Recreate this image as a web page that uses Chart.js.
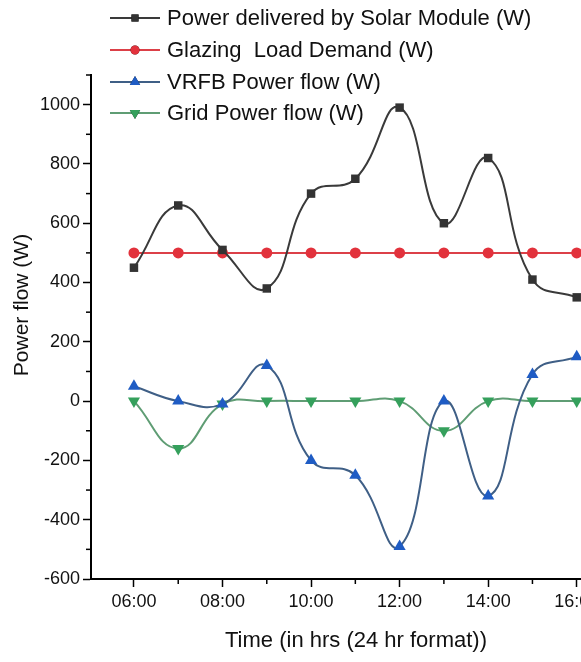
<!DOCTYPE html>
<html>
<head>
<meta charset="utf-8">
<script src="https://cdn.jsdelivr.net/npm/chart.js@4/dist/chart.umd.min.js"></script>
<style>
  html, body { margin: 0; padding: 0; background: #fff; overflow: hidden; }
  #wrap { width: 581px; height: 662px; overflow: hidden; }
</style>
</head>
<body>
<div id="wrap"><canvas id="myChart" width="628" height="662"></canvas></div>
<script>
// time in hours, tick labels
const hours = [6, 7, 8, 9, 10, 11, 12, 13, 14, 15, 16];
const xTickLabels = { 6: '06:00', 8: '08:00', 10: '10:00', 12: '12:00', 14: '14:00', 16: '16:00' };
const yTicks = [-600, -400, -200, 0, 200, 400, 600, 800, 1000];

// series (W)
const solarPower = [450, 660, 510, 380, 700, 750, 990, 600, 820, 410, 350];
const loadDemand = [500, 500, 500, 500, 500, 500, 500, 500, 500, 500, 500];
const vrfbFlow = [50, 0, -10, 120, -200, -250, -490, 0, -320, 90, 150];
const gridFlow = [0, -160, -10, 0, 0, 0, 0, -100, 0, 0, 0];

const seriesNames = [
  'Power delivered by Solar Module (W)',
  'Glazing  Load Demand (W)',
  'VRFB Power flow (W)',
  'Grid Power flow (W)'
];
const xTitle = 'Time (in hrs (24 hr format))';
const yTitle = 'Power flow (W)';

const FONT = 'Arial, "Liberation Sans", sans-serif';

function toPoints(vals) {
  return hours.map((h, i) => ({ x: h, y: vals[i] }));
}

// legend drawn inside the plot, upper left, like the original
const legendPlugin = {
  id: 'insideLegend',
  afterDraw(chart) {
    const ctx = chart.ctx;
    const x0 = 110, x1 = 160, tx = 167;
    const rows = [18, 50, 82, 113];
    ctx.save();
    chart.data.datasets.forEach((ds, i) => {
      const y = rows[i];
      ctx.strokeStyle = ds.borderColor;
      ctx.lineWidth = 2;
      ctx.beginPath();
      ctx.moveTo(x0, y);
      ctx.lineTo(x1, y);
      ctx.stroke();
      Chart.helpers.drawPoint(ctx, {
        pointStyle: ds.pointStyle,
        radius: ds.pointRadius - 1,
        rotation: ds.pointRotation || 0,
        borderWidth: 0
      }, (x0 + x1) / 2, y);
      ctx.fillStyle = ds.pointBackgroundColor;
      ctx.fill();
      ctx.fillStyle = '#111';
      ctx.font = '22px ' + FONT;
      ctx.textBaseline = 'middle';
      ctx.textAlign = 'left';
      ctx.fillText(ds.label, tx, y + 1);
    });
    ctx.restore();
  }
};

// y title sits a bit above the middle of the axis in the original
const yTitlePlugin = {
  id: 'yTitle',
  afterDraw(chart) {
    const ctx = chart.ctx;
    ctx.save();
    ctx.translate(22, 305);
    ctx.rotate(-Math.PI / 2);
    ctx.fillStyle = '#111';
    ctx.font = '21px ' + FONT;
    ctx.textAlign = 'center';
    ctx.textBaseline = 'middle';
    ctx.fillText(yTitle, 0, 0);
    ctx.restore();
  }
};

// short minor ticks between the labelled ones
const minorTicks = {
  id: 'minorTicks',
  afterDraw(chart) {
    const ctx = chart.ctx;
    const xs = chart.scales.x, ys = chart.scales.y;
    const area = chart.chartArea;
    ctx.save();
    ctx.strokeStyle = '#000';
    ctx.lineWidth = 1.5;
    [7, 9, 11, 13, 15].forEach(h => {
      const px = xs.getPixelForValue(h);
      ctx.beginPath();
      ctx.moveTo(px, area.bottom);
      ctx.lineTo(px, area.bottom + 5);
      ctx.stroke();
    });
    for (let v = -500; v <= 1100; v += 200) {
      const py = ys.getPixelForValue(v);
      ctx.beginPath();
      ctx.moveTo(area.left, py);
      ctx.lineTo(area.left - 5, py);
      ctx.stroke();
    }
    ctx.restore();
  }
};

const ctx = document.getElementById('myChart').getContext('2d');
const myChart = new Chart(ctx, {
  type: 'line',
  data: {
    datasets: [{
      label: seriesNames[0],
      data: toPoints(solarPower),
      borderColor: '#3a3a3a',
      pointBackgroundColor: '#333333',
      pointBorderWidth: 0,
      pointStyle: 'rect',
      pointRadius: 6,
      borderWidth: 2,
      tension: 0.45
    }, {
      label: seriesNames[1],
      data: toPoints(loadDemand),
      borderColor: '#dc4048',
      pointBackgroundColor: '#e2323c',
      pointBorderWidth: 0,
      pointStyle: 'circle',
      pointRadius: 5.5,
      borderWidth: 2,
      tension: 0.45
    }, {
      label: seriesNames[2],
      data: toPoints(vrfbFlow),
      borderColor: '#3f5f86',
      pointBackgroundColor: '#1f5cc4',
      pointBorderWidth: 0,
      pointStyle: 'triangle',
      pointRadius: 7,
      borderWidth: 2,
      tension: 0.45
    }, {
      label: seriesNames[3],
      data: toPoints(gridFlow),
      borderColor: '#5f9d74',
      pointBackgroundColor: '#35a05c',
      pointBorderWidth: 0,
      pointStyle: 'triangle',
      pointRotation: 180,
      pointRadius: 7,
      borderWidth: 2,
      tension: 0.45
    }]
  },
  plugins: [legendPlugin, yTitlePlugin, minorTicks],
  options: {
    responsive: false,
    animation: false,
    layout: { padding: { top: 75, right: 0, left: 0, bottom: 0 } },
    plugins: {
      legend: { display: false },
      tooltip: { enabled: false }
    },
    scales: {
      x: {
        type: 'linear',
        position: 'bottom',
        min: 5.03,
        max: 17,
        afterBuildTicks(scale) {
          scale.ticks = [6, 8, 10, 12, 14, 16].map(v => ({ value: v }));
        },
        afterFit(scale) {
          scale.height = 83;
          scale.paddingLeft = 0;
          scale.paddingRight = 0;
        },
        border: { display: true, color: '#000', width: 2 },
        grid: { drawOnChartArea: false, drawTicks: true, tickLength: 8, tickWidth: 1.5, tickColor: '#000' },
        ticks: {
          color: '#111',
          font: { family: FONT, size: 18 },
          padding: 4,
          maxRotation: 0,
          autoSkip: false,
          callback: v => xTickLabels[v] || ''
        },
        title: {
          display: true,
          text: xTitle,
          color: '#111',
          font: { family: FONT, size: 22 },
          padding: { top: 0, bottom: 8 }
        }
      },
      y: {
        type: 'linear',
        min: -600,
        max: 1100,
        afterBuildTicks(scale) {
          scale.ticks = yTicks.map(v => ({ value: v }));
        },
        afterFit(scale) {
          scale.width = 91;
          scale.paddingTop = 0;
          scale.paddingBottom = 0;
        },
        border: { display: true, color: '#000', width: 2 },
        grid: { drawOnChartArea: false, drawTicks: true, tickLength: 8, tickWidth: 1.5, tickColor: '#000' },
        ticks: {
          color: '#111',
          font: { family: FONT, size: 18 },
          padding: 3,
          autoSkip: false,
          callback: v => String(v)
        },
        title: { display: false }
      }
    }
  }
});
</script>
</body>
</html>
